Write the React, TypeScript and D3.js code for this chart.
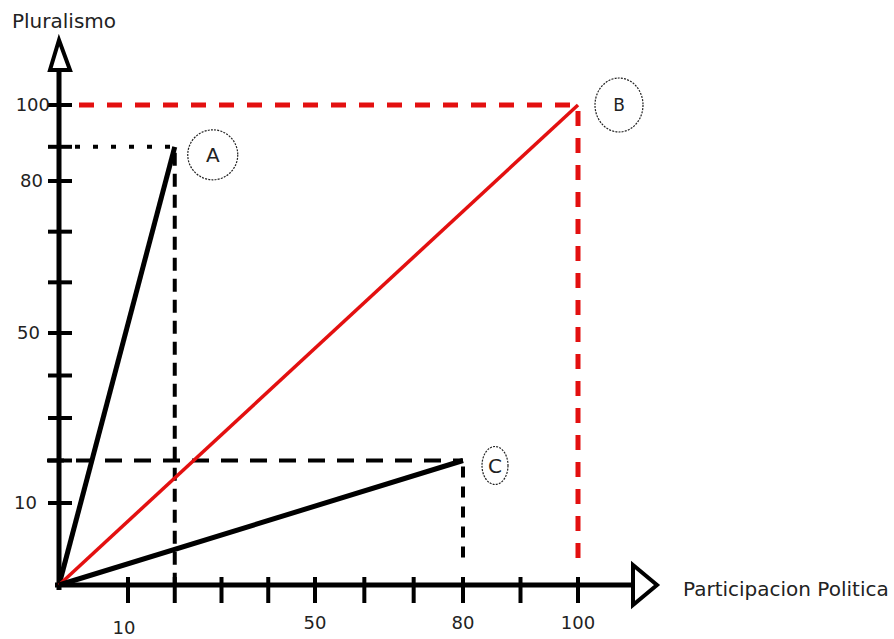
import React from 'react'
import * as d3 from 'd3'

// hand drawn axes: the labelled stops are not evenly spaced
const axisStops = [0, 10, 50, 80, 100]
const xTicks = [10, 20, 30, 40, 50, 60, 70, 80, 90, 100]
const yTicks = [10, 20, 30, 40, 50, 60, 70, 80, 89, 100]
const xTickLabels = ['10', '50', '80', '100']
const yTickLabels = ['10', '50', '80', '100']

const pointNames = ['A', 'B', 'C']
const pointX = [20, 100, 80]
const pointY = [89, 100, 20]

const xTitle = 'Participacion Politica'
const yTitle = 'Pluralismo'

const W = 894
const H = 639
const font = '"DejaVu Sans", Verdana, sans-serif'

export default function App() {
  const x = d3.scaleLinear().domain(axisStops).range([59, 128, 315, 463, 578])
  const y = d3.scaleLinear().domain(axisStops).range([585, 503, 333, 181, 105])
  const x0 = x(0)
  const y0 = y(0)

  const line = d3.line<[number, number]>().x(d => x(d[0])).y(d => y(d[1]))

  // label bubble placement next to each point
  const bubble = [
    { dx: 38, dy: 8, rx: 25, ry: 25, fs: 20 },
    { dx: 41, dy: 0, rx: 24, ry: 27, fs: 17 },
    { dx: 32, dy: 5, rx: 13, ry: 19, fs: 20 },
  ]
  const guideStyle = [
    { color: '#000', w: 4, h: '5,13', v: '13,8', hx: x0 + 16, vEnd: y0 },
    { color: '#e31010', w: 5, h: '15,13', v: '15,12', hx: x0 + 20, vEnd: y0 - 18 },
    { color: '#000', w: 4, h: '17,12', v: '11,9', hx: x0 - 12, vEnd: y0 - 25 },
  ]
  // hand placed label edges
  const yLabelShift: Record<string, number> = { '100': -9, '80': -16, '50': -19, '10': -22 }

  const topY = y(100) - 65
  const rightX = x(100) + 55

  return (
    <svg width={W} height={H} style={{ position: 'absolute', left: 0, top: 0, background: '#fff' }}>
      <rect width={W} height={H} fill="#fff" />

      {/* guides from the axes to each point */}
      {pointNames.map((n, i) => {
        const g = guideStyle[i]
        const px = x(pointX[i])
        const py = y(pointY[i])
        return (
          <g key={'g' + n}>
            <path d={d3.line()([[g.hx, py], [px, py]])!} stroke={g.color} strokeWidth={g.w} strokeDasharray={g.h} fill="none" />
            <path d={d3.line()([[px, py + 6], [px, g.vEnd]])!} stroke={g.color} strokeWidth={g.w} strokeDasharray={g.v} fill="none" />
          </g>
        )
      })}

      {/* axes */}
      <line x1={x0} y1={y0 + 5} x2={x0} y2={topY + 30} stroke="#000" strokeWidth={5} />
      <line x1={x0 - 4} y1={y0} x2={rightX} y2={y0} stroke="#000" strokeWidth={5} />
      <polygon points={`${x0},${topY} ${x0 - 9},${topY + 30} ${x0 + 11},${topY + 30}`} fill="#fff" stroke="#000" strokeWidth={4} strokeLinejoin="miter" />
      <polygon points={`${rightX},${y0 - 20} ${rightX},${y0 + 20} ${rightX + 24},${y0}`} fill="#fff" stroke="#000" strokeWidth={4} />

      {yTicks.map(t => (
        <line key={'yt' + t} x1={x0 - 11} x2={x0 + 13} y1={y(t)} y2={y(t)} stroke="#000" strokeWidth={4} />
      ))}
      {xTicks.map(t => (
        <line key={'xt' + t} x1={x(t)} x2={x(t)} y1={y0 - 8} y2={y0 + 18} stroke="#000" strokeWidth={4} />
      ))}

      {yTickLabels.map(l => (
        <text key={'yl' + l} x={x0} y={y(+l)} dx={yLabelShift[l]} dy="0.35em" textAnchor="end" fontFamily={font} fontSize={18} fill="#222">{l}</text>
      ))}
      {xTickLabels.map(l => (
        <text key={'xl' + l} x={x(+l)} y={y0 + 44} dx={l === '10' ? -4 : 0} dy={l === '10' ? 5 : 0} textAnchor="middle" fontFamily={font} fontSize={18} fill="#222">{l}</text>
      ))}

      {/* vectors from the origin */}
      {pointNames.map((n, i) => (
        <path
          key={'v' + n}
          d={line([[0, 0], [pointX[i], pointY[i]]])!}
          stroke={n === 'B' ? '#e31010' : '#000'}
          strokeWidth={n === 'B' ? 3.5 : 5}
          fill="none"
        />
      ))}

      {/* labels */}
      {pointNames.map((n, i) => {
        const b = bubble[i]
        const cx = x(pointX[i]) + b.dx
        const cy = y(pointY[i]) + b.dy
        return (
          <g key={'b' + n}>
            <ellipse cx={cx} cy={cy} rx={b.rx} ry={b.ry} fill="none" stroke="#222" strokeWidth={1.2} strokeDasharray="2,1.2" />
            <text x={cx} y={cy} dy="0.36em" textAnchor="middle" fontFamily={font} fontSize={b.fs} fill="#222">{n}</text>
          </g>
        )
      })}

      <text x={12} y={28} fontFamily={font} fontSize={20} fill="#222">{yTitle}</text>
      <text x={683} y={596} fontFamily={font} fontSize={20} fill="#222">{xTitle}</text>
    </svg>
  )
}
